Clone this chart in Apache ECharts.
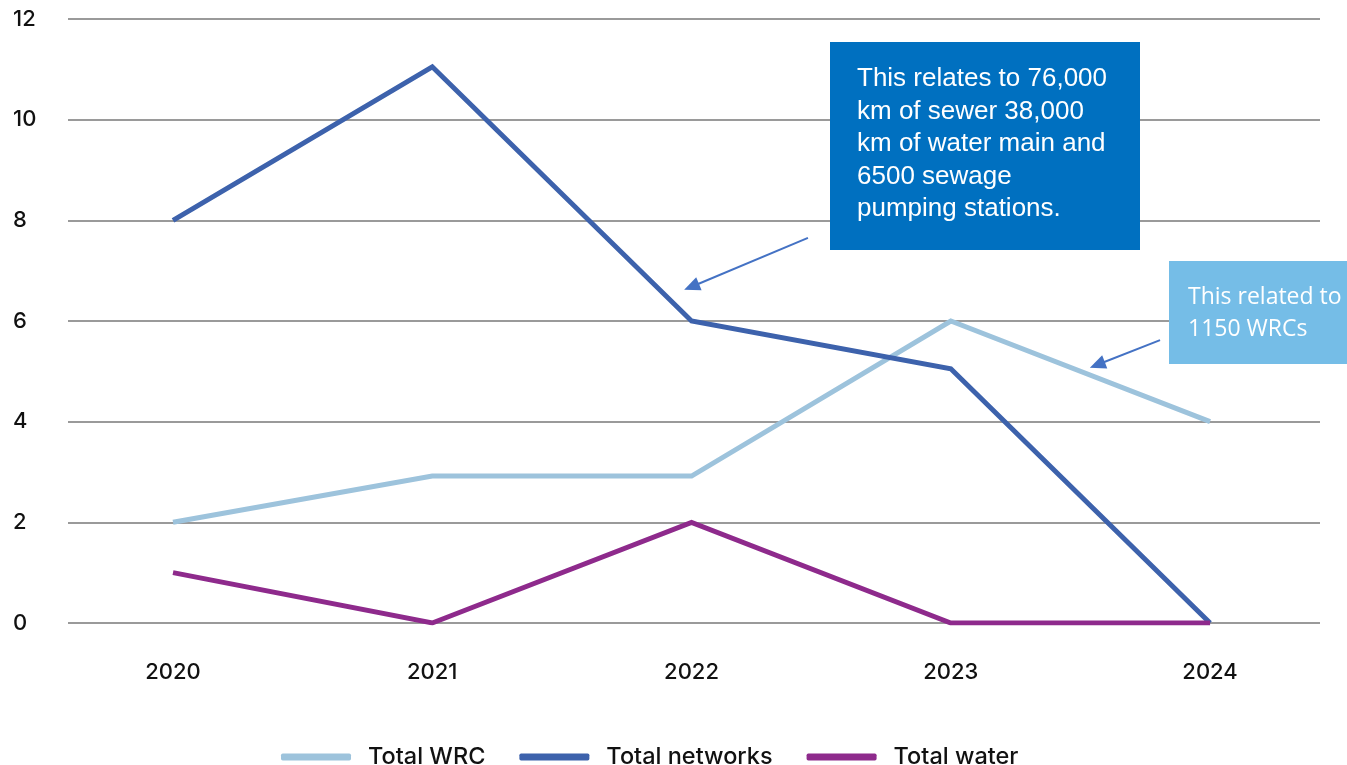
<!DOCTYPE html>
<html>
<head>
<meta charset="utf-8">
<script src="https://cdn.jsdelivr.net/npm/echarts@6/dist/echarts.min.js"></script>
<style>
  html, body { margin: 0; padding: 0; background: #fff; }
  #chart { width: 1347px; height: 765px; }
</style>
</head>
<body>
<div id="chart"></div>
<script>
// Years along the x axis
const years = ['2020', '2021', '2022', '2023', '2024'];
// Series values per year
const totalWRC = [2, 2.92, 2.92, 6, 4];
const totalNetworks = [8, 11.05, 6, 5.05, 0];
const totalWater = [1, 0, 2, 0, 0];
// Y tick values
const yTicks = [0, 2, 4, 6, 8, 10, 12];

// Callout notes and where their arrows point (data coordinates)
const networksNote = 'This relates to 76,000\nkm of sewer 38,000\nkm of water main and\n6500 sewage\npumping stations.';
const wrcNote = 'This related to\n1150 WRCs';
const networksArrow = [[2.449, 7.65], [2.0, 6.68]];
const wrcArrow = [[3.807, 5.62], [3.565, 5.13]];

const toPairs = arr => arr.map((v, i) => [i, v]);
const labelFont = 'Inter, Lato, sans-serif';

const chart = echarts.init(document.getElementById('chart'));

const lineSeries = (name, values, color) => ({
  name,
  type: 'line',
  data: toPairs(values),
  symbol: 'none',
  lineStyle: { width: 5, color, cap: 'butt', join: 'miter' },
  itemStyle: { color },
  z: 3
});

chart.setOption({
  animation: false,
  textStyle: { fontFamily: labelFont },
  grid: { left: 68, right: 27, top: 19, bottom: 142 },
  xAxis: {
    type: 'value',
    min: -0.405,
    max: 4.424,
    axisLine: { show: false },
    axisTick: { show: false },
    splitLine: { show: false },
    axisLabel: {
      customValues: [0, 1, 2, 3, 4],
      formatter: v => years[Math.round(v)],
      color: '#111',
      fontSize: 22,
      fontWeight: 500,
      margin: 38,
      fontFamily: labelFont
    }
  },
  yAxis: {
    type: 'value',
    min: yTicks[0],
    max: yTicks[yTicks.length - 1],
    interval: 2,
    axisLine: { show: false },
    axisTick: { show: false },
    axisLabel: {
      color: '#111',
      fontSize: 22,
      fontWeight: 500,
      margin: 55,
      align: 'left',
      fontFamily: labelFont
    },
    splitLine: { lineStyle: { color: '#9a9a9a', width: 2 } }
  },
  legend: {
    top: 740,
    left: 276,
    itemWidth: 70,
    itemHeight: 7,
    itemGap: 34,
    icon: 'roundRect',
    textStyle: {
      fontSize: 23.5,
      fontWeight: 500,
      color: '#111',
      fontFamily: labelFont,
      padding: [0, 0, 0, 12]
    },
    data: ['Total WRC', 'Total networks', 'Total water']
  },
  series: [
    lineSeries('Total WRC', totalWRC, '#9dc3dc'),
    lineSeries('Total networks', totalNetworks, '#3d62ac'),
    lineSeries('Total water', totalWater, '#8e2a8c'),
    {
      type: 'line',
      data: [],
      silent: true,
      markLine: {
        silent: true,
        animation: false,
        symbol: ['none', 'triangle'],
        symbolSize: [14, 16],
        label: { show: false },
        lineStyle: { color: '#4472c4', width: 2, type: 'solid' },
        data: [
          [{ coord: networksArrow[0] }, { coord: networksArrow[1] }],
          [{ coord: wrcArrow[0] }, { coord: wrcArrow[1] }]
        ]
      },
      z: 5
    }
  ],
  graphic: [
    {
      type: 'rect',
      left: 830, top: 42,
      shape: { width: 310, height: 208 },
      style: { fill: '#0070c0' },
      z: 10
    },
    {
      type: 'text',
      left: 857, top: 63,
      style: {
        text: networksNote,
        fill: '#fff',
        font: '26px "Liberation Sans", Arial, sans-serif',
        lineHeight: 32.5
      },
      z: 11
    },
    {
      type: 'rect',
      left: 1169, top: 261,
      shape: { width: 178, height: 103 },
      style: { fill: '#75bde7' },
      z: 10
    },
    {
      type: 'text',
      left: 1188, top: 281,
      style: {
        text: wrcNote,
        fill: '#fff',
        font: '23px "Open Sans", sans-serif',
        lineHeight: 32
      },
      z: 11
    }
  ]
});
</script>
</body>
</html>
